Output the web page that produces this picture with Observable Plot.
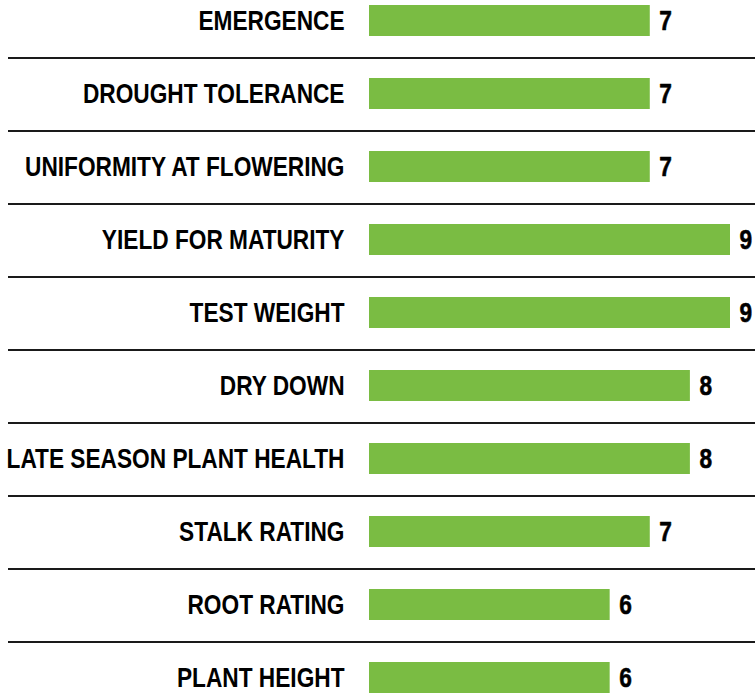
<!DOCTYPE html>
<html><head><meta charset="utf-8">
<script src="https://cdn.jsdelivr.net/npm/d3@7"></script>
<script src="https://cdn.jsdelivr.net/npm/@observablehq/plot@0.6"></script>
<style>body{margin:0;background:#fff}</style>
</head><body><div id="chart"></div>
<script>
const categories = ["EMERGENCE","DROUGHT TOLERANCE","UNIFORMITY AT FLOWERING","YIELD FOR MATURITY","TEST WEIGHT","DRY DOWN","LATE SEASON PLANT HEALTH","STALK RATING","ROOT RATING","PLANT HEIGHT"];
const values = [7,7,7,9,9,8,8,7,6,6];
const data = categories.map((c,i)=>({trait:c, score:values[i]}));
const font = '"Liberation Sans", Arial, sans-serif';
const chart = Plot.plot({
  width:755, height:696, marginLeft:369, marginRight:25, marginTop:5, marginBottom:2,
  style:{fontFamily: font, fontWeight:"bold", fontSize:"28px", color:"#000", background:"#fff"},
  x:{domain:[0,9], axis:null},
  y:{domain:categories, paddingInner:0.575, paddingOuter:0, label:null},
  marks:[
    Plot.ruleY(categories.slice(0,-1), {y:d=>d, dy:37, stroke:"#1a1a1a", strokeWidth:2, insetLeft:-361, insetRight:-25}),
    Plot.barX(data,{x:"score", y:"trait", fill:"#7abc43"}),
    Plot.text(data,{x:"score", y:"trait", text:d=>String(d.score), dx:9, textAnchor:"start", fontSize:28, fontWeight:"bold", fill:"#000", stroke:"#000", strokeWidth:0.6, className:"vals"}),
    Plot.axisY({tickSize:0, tickPadding:25, fontSize:28, fontWeight:"bold", label:null, fill:"#000", stroke:"#000", strokeWidth:0.6, className:"labs"})
  ]
});
document.getElementById("chart").appendChild(chart);
// condense text horizontally about its anchor point (emulates a narrow bold face)
chart.querySelectorAll(".labs text, .vals text").forEach(t => {
  const tr = t.getAttribute("transform") || "";
  t.setAttribute("transform", `${tr} scale(0.81,1)`);
});
</script>
</body></html>
